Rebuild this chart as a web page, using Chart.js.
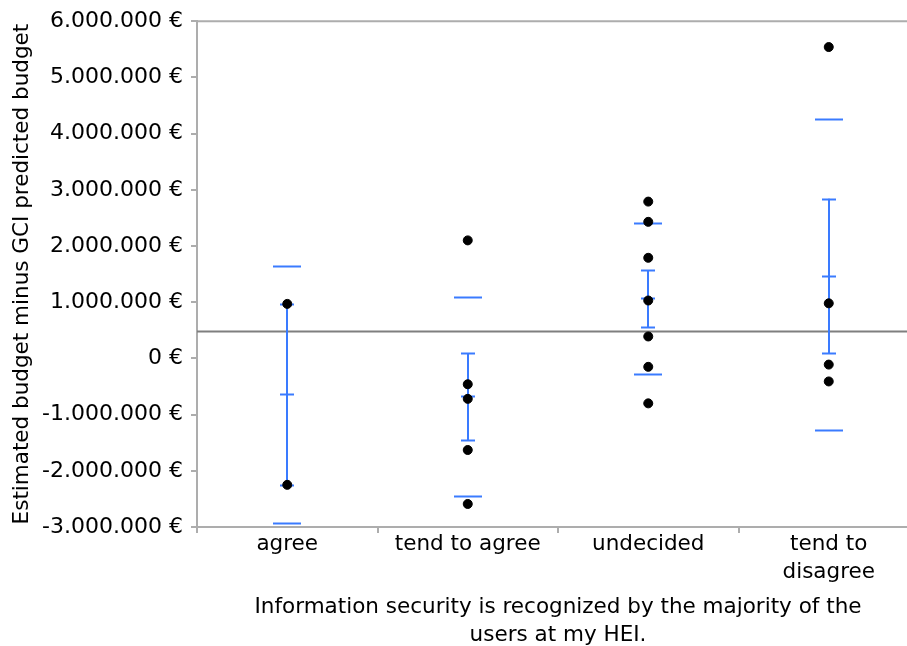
<!DOCTYPE html>
<html>
<head>
<meta charset="utf-8">
<script src="https://cdn.jsdelivr.net/npm/chart.js@4.4.1/dist/chart.umd.min.js"></script>
<style>
  html, body { margin: 0; padding: 0; background: #fff; overflow: hidden; width: 907px; height: 646px; }
  #wrap { position: absolute; left: 0; top: 0; width: 930px; height: 646px; }
</style>
</head>
<body>
<div id="wrap"><canvas id="c" width="930" height="646"></canvas></div>
<script>
// Response groups
const categories = [['agree'], ['tend to agree'], ['undecided'], ['tend to', 'disagree']];

// Estimated budget minus GCI predicted budget, per respondent (€)
const agreeValues        = [970000, -2250000];
const tendToAgreeValues  = [2100000, -460000, -720000, -1630000, -2590000];
const undecidedValues    = [2790000, 2430000, 1790000, 1030000, 390000, -150000, -800000];
const tendToDisagreeVals = [5540000, 980000, -110000, -410000];

// Group summaries (€)
const groupMeans = [-640000, -670000, 1070000, 1470000];
const seLow      = [-2250000, -1450000, 550000, 90000];
const seHigh     = [970000, 90000, 1570000, 2840000];
const sdLow      = [-2920000, -2440000, -280000, -1280000];
const sdHigh     = [1640000, 1090000, 2410000, 4260000];
const grandMean  = 480000;

// Y axis ticks (€)
const yTicks = [-3000000, -2000000, -1000000, 0, 1000000, 2000000, 3000000, 4000000, 5000000, 6000000];

const groups = [agreeValues, tendToAgreeValues, undecidedValues, tendToDisagreeVals];
const points = [];
groups.forEach((vals, i) => vals.forEach(v => points.push({ x: i, y: v })));

const FONT = 'DejaVu Sans';
const AXIS_GREY = '#adadad';
const BLUE = '#3a7bff';

function euro(v) {
  const s = Math.abs(Math.round(v)).toString().replace(/\B(?=(\d{3})+(?!\d))/g, '.');
  return (v < 0 ? '-' : '') + s + ' €';
}

// Mean line, frame top and the mean / SE / SD markers for each group
const oneWayPlugin = {
  id: 'oneWay',
  beforeDatasetsDraw(chart) {
    const { ctx, chartArea, scales } = chart;
    const xs = scales.x, ys = scales.y;
    ctx.save();
    // top frame line
    ctx.strokeStyle = AXIS_GREY;
    ctx.lineWidth = 2;
    ctx.beginPath();
    ctx.moveTo(chartArea.left, chartArea.top);
    ctx.lineTo(chartArea.right, chartArea.top);
    ctx.stroke();
    // overall mean
    const gy = ys.getPixelForValue(grandMean);
    ctx.strokeStyle = '#7f7f7f';
    ctx.lineWidth = 2;
    ctx.beginPath();
    ctx.moveTo(chartArea.left, gy);
    ctx.lineTo(chartArea.right, gy);
    ctx.stroke();

    ctx.strokeStyle = BLUE;
    ctx.lineWidth = 2;
    const hline = (cx, v, half) => {
      const y = Math.round(ys.getPixelForValue(v)) + 0.5;
      ctx.beginPath();
      ctx.moveTo(cx - half, y);
      ctx.lineTo(cx + half, y);
      ctx.stroke();
    };
    groupMeans.forEach((m, i) => {
      const cx = Math.round(xs.getPixelForValue(i));
      ctx.beginPath();
      ctx.moveTo(cx, ys.getPixelForValue(seHigh[i]));
      ctx.lineTo(cx, ys.getPixelForValue(seLow[i]));
      ctx.stroke();
      hline(cx, seHigh[i], 7);
      hline(cx, seLow[i], 7);
      hline(cx, m, 7);
      hline(cx, sdHigh[i], 14);
      hline(cx, sdLow[i], 14);
    });
    ctx.restore();
  }
};

new Chart(document.getElementById('c'), {
  type: 'scatter',
  data: {
    datasets: [{
      data: points,
      backgroundColor: '#000',
      borderColor: '#000',
      pointRadius: 4.5,
      pointHoverRadius: 4.5
    }]
  },
  options: {
    responsive: false,
    animation: false,
    events: [],
    layout: { padding: { left: 0, top: 21, right: 11, bottom: 0 } },
    plugins: { legend: { display: false }, tooltip: { enabled: false } },
    scales: {
      x: {
        type: 'linear',
        min: -0.5,
        max: 3.5,
        afterBuildTicks(scale) {
          const t = [];
          for (let v = -0.5; v <= 3.5; v += 0.5) t.push({ value: v });
          scale.ticks = t;
        },
        afterFit(scale) { scale.height = 119; },
        grid: {
          drawOnChartArea: false,
          tickLength: 6,
          lineWidth: 2,
          color: ctx => (ctx.tick && Math.abs(ctx.tick.value % 1) === 0.5) ? AXIS_GREY : 'rgba(0,0,0,0)'
        },
        border: { color: AXIS_GREY, width: 2 },
        ticks: {
          autoSkip: false,
          maxRotation: 0,
          padding: -3,
          color: '#000',
          font: { family: FONT, size: 21.5, lineHeight: 1.3 },
          callback: v => Number.isInteger(v) ? categories[v] : ''
        },
        title: {
          display: true,
          text: ['Information security is recognized by the majority of the', 'users at my HEI.'],
          color: '#000',
          font: { family: FONT, size: 21.5, lineHeight: 1.32 },
          padding: { top: 0, bottom: -4 }
        }
      },
      y: {
        min: -3000000,
        max: 6000000,
        afterBuildTicks(scale) { scale.ticks = yTicks.map(v => ({ value: v })); },
        afterFit(scale) { scale.width = 197; },
        grid: { drawOnChartArea: false, tickLength: 6, lineWidth: 2, color: AXIS_GREY },
        border: { color: AXIS_GREY, width: 2 },
        ticks: {
          padding: 8,
          color: '#000',
          font: { family: FONT, size: 22 },
          callback: v => euro(v)
        },
        title: {
          display: true,
          text: 'Estimated budget minus GCI predicted budget',
          color: '#000',
          font: { family: FONT, size: 21.5 },
          padding: { top: 10, bottom: 0 }
        }
      }
    }
  },
  plugins: [oneWayPlugin]
});
</script>
</body>
</html>
